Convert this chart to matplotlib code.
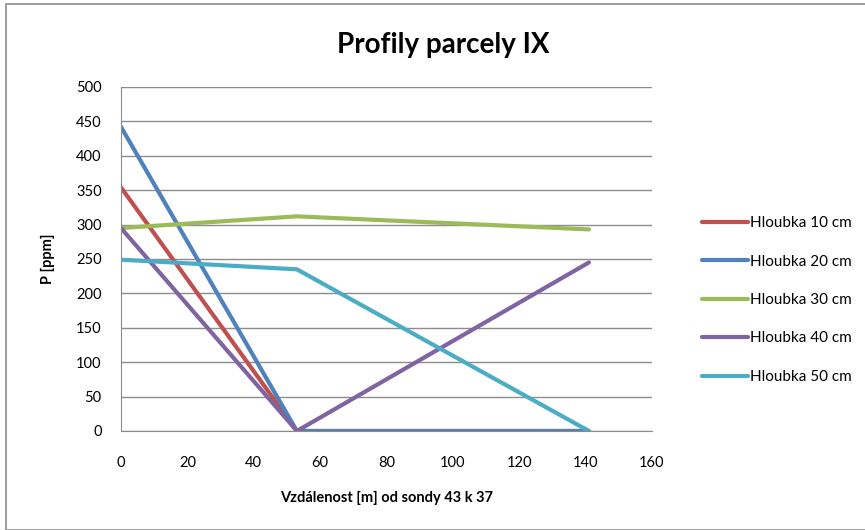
import matplotlib.pyplot as plt
from matplotlib.patches import Rectangle

plt.rcParams['font.family'] = ['Lato', 'DejaVu Sans']

distance = [0, 53, 141]
hloubka_10 = [354, 0, 0]
hloubka_20 = [442, 0, 0]
hloubka_30 = [295, 312, 293]
hloubka_40 = [295, 0, 245]
hloubka_50 = [249, 235, 0]

labels = ["Hloubka 10 cm", "Hloubka 20 cm", "Hloubka 30 cm", "Hloubka 40 cm", "Hloubka 50 cm"]
series = [hloubka_10, hloubka_20, hloubka_30, hloubka_40, hloubka_50]
colors = ["#C0504D", "#4F81BD", "#9BBB59", "#8064A2", "#4BACC6"]

fig = plt.figure(figsize=(8.65, 5.3), dpi=100)
ax = fig.add_axes([121 / 865, 1 - 431 / 530, (652 - 121) / 865, (431 - 87) / 530])

# chart area border
fig.patches.append(Rectangle((6 / 865, 0), 1, 1 - 4 / 530, transform=fig.transFigure,
                             fill=False, edgecolor="#8c8c8c", linewidth=1.2))

for vals, lab, c in zip(series, labels, colors):
    ax.plot(distance, vals, color=c, linewidth=3, label=lab, solid_capstyle="round")

ax.set_xlim(0, 160)
ax.set_ylim(0, 500)
ax.set_xticks(range(0, 161, 20))
ax.set_yticks(range(0, 501, 50))
ax.grid(axis="y", color="#8c8c8c", linewidth=1)
ax.set_axisbelow(True)
for s in ["top", "right"]:
    ax.spines[s].set_visible(False)
for s in ["left", "bottom"]:
    ax.spines[s].set_color("#8c8c8c")
ax.tick_params(axis="both", labelsize=10.5, length=0, colors="black")
ax.tick_params(axis="x", pad=18)
ax.tick_params(axis="y", pad=14)

ax.set_xlabel("Vzdálenost [m] od sondy 43 k 37", fontsize=10.5, fontweight="bold", labelpad=15)
ax.set_ylabel("P [ppm]", fontsize=10.5, fontweight="bold", labelpad=15)
fig.text(443 / 865, 1 - 45 / 530, "Profily parcely IX", ha="center", va="center",
         fontsize=20, fontweight="bold")

fig.legend(loc="center left", bbox_to_anchor=(688 / 865, 1 - 300 / 530), frameon=False,
           fontsize=11, handlelength=3, handletextpad=0.15, labelspacing=1.6)

fig.savefig("out.png", dpi=100)
